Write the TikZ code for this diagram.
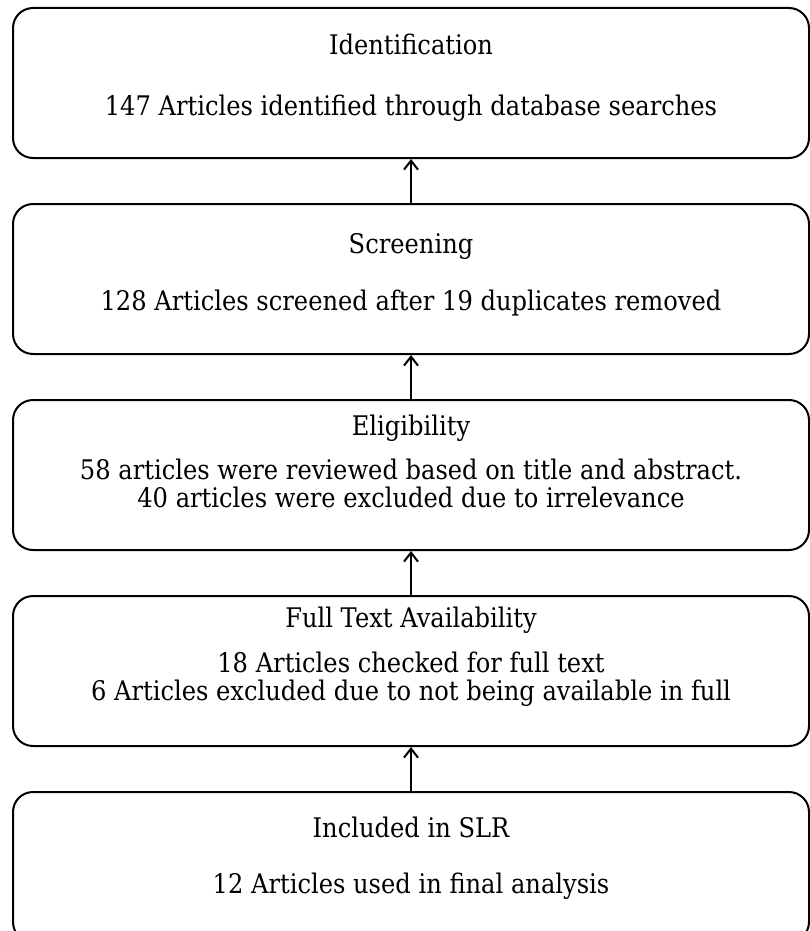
\documentclass[tikz,border=0pt]{standalone}
\usepackage{fontspec}
\setmainfont{DejaVu Serif}[FakeStretch=0.895]
\usetikzlibrary{positioning,arrows.meta}
\tikzset{
  stage-box/.style={draw=black,line width=2pt,rounded corners=20pt,
    minimum width=796pt,minimum height=150pt,inner sep=0pt},
  stage-text/.style={anchor=base,align=center,inner sep=0pt,
    font=\fontsize{27}{28}\selectfont},
  arrow-up/.style={-{Straight Barb[length=9pt,width=14pt]},line width=2pt},
}
\begin{document}
\begin{tikzpicture}[node distance=44pt]
  \useasboundingbox (0,0) rectangle (810pt,-931pt);
  % stages, top to bottom
  \node[stage-box,anchor=north west] (ident) at (12pt,-7pt) {};
  \node[stage-box,below=of ident] (screen) {};
  \node[stage-box,below=of screen] (elig) {};
  \node[stage-box,below=of elig] (fulltext) {};
  \node[stage-box,below=of fulltext] (incl) {};
  % texts (base anchor = last line)
  \node[stage-text] (ident-t) at ([yshift=-48pt]ident.north) {Identification};
  \node[stage-text] (ident-b) at ([yshift=-109pt]ident.north)
    {147 Articles identified through database searches};
  \node[stage-text] (screen-t) at ([yshift=-50pt]screen.north) {Screening};
  \node[stage-text] (screen-b) at ([yshift=-107pt]screen.north)
    {128 Articles screened after 19 duplicates removed};
  \node[stage-text] (elig-t) at ([yshift=-36pt]elig.north) {Eligibility};
  \node[stage-text] (elig-b) at ([yshift=-108pt]elig.north)
    {58 articles were reviewed based on title and abstract.\\
     40 articles were excluded due to irrelevance};
  \node[stage-text] (fulltext-t) at ([yshift=-32pt]fulltext.north) {Full Text Availability};
  \node[stage-text] (fulltext-b) at ([yshift=-105pt]fulltext.north)
    {18 Articles checked for full text\\
     6 Articles excluded due to not being available in full};
  \node[stage-text] (incl-t) at ([yshift=-46pt]incl.north) {Included in SLR};
  \node[stage-text] (incl-b) at ([yshift=-102pt]incl.north)
    {12 Articles used in final analysis};
  % arrows point upwards
  \draw[arrow-up] (screen) -- (ident);
  \draw[arrow-up] (elig) -- (screen);
  \draw[arrow-up] (fulltext) -- (elig);
  \draw[arrow-up] (incl) -- (fulltext);
\end{tikzpicture}
\end{document}
